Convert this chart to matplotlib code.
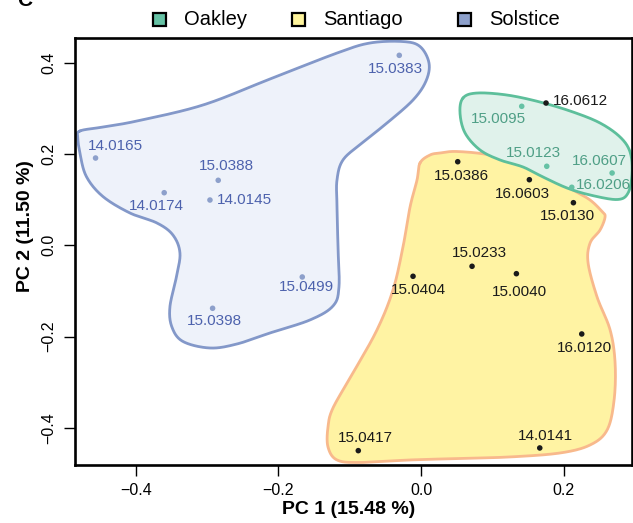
import numpy as np
import matplotlib
matplotlib.use("Agg")
import matplotlib.pyplot as plt
from matplotlib.patches import Rectangle

plt.rcParams["font.family"] = ["Liberation Sans", "DejaVu Sans"]

# ---- data -------------------------------------------------------------
groups = ["Oakley", "Santiago", "Solstice"]

solstice_ids = ["15.0383", "14.0165", "15.0388", "14.0174", "14.0145", "15.0499", "15.0398"]
solstice_pc1 = [-0.0305, -0.4566, -0.2845, -0.3603, -0.2961, -0.1666, -0.2924]
solstice_pc2 = [0.4162, 0.1912, 0.1424, 0.1152, 0.0992, -0.0694, -0.1380]

oakley_ids = ["15.0095", "15.0123", "16.0607", "16.0206"]
oakley_pc1 = [0.1413, 0.1764, 0.2681, 0.2115]
oakley_pc2 = [0.3045, 0.1731, 0.1584, 0.1271]

santiago_ids = ["16.0612", "15.0386", "16.0603", "15.0130", "15.0233", "15.0040",
                "15.0404", "16.0120", "15.0417", "14.0141"]
santiago_pc1 = [0.1754, 0.0515, 0.1520, 0.2138, 0.0716, 0.1338, -0.0112, 0.2255, -0.0880, 0.1666]
santiago_pc2 = [0.3117, 0.1831, 0.1437, 0.0933, -0.0460, -0.0622, -0.0679, -0.1943, -0.4499, -0.4440]

# group outlines (PC1, PC2)
solstice_hull_x = [-0.4786, -0.4463, -0.3986, -0.3060, -0.2119, -0.1179, -0.0716, -0.0253,
                   -0.0014, 0.0112, 0.0070, -0.0112, -0.0477, -0.0828, -0.1095, -0.1179,
                   -0.1179, -0.1165, -0.1151, -0.1235, -0.1558, -0.2119, -0.2582, -0.2961,
                   -0.3340, -0.3495, -0.3523, -0.3432, -0.3382, -0.3481, -0.3705, -0.4084,
                   -0.4463, -0.4695, -0.4786, -0.4814]
solstice_hull_y = [0.2504, 0.2591, 0.2723, 0.3073, 0.3643, 0.4212, 0.4432, 0.4464,
                   0.4355, 0.3993, 0.3599, 0.3183, 0.2679, 0.2241, 0.1869, 0.1430,
                   0.0883, -0.0037, -0.0913, -0.1330, -0.1636, -0.1921, -0.2162, -0.2250,
                   -0.2107, -0.1790, -0.1352, -0.0694, -0.0169, 0.0226, 0.0489, 0.0708,
                   0.1069, 0.1507, 0.2022, 0.2350]

oakley_hull_x = [0.0589, 0.0786, 0.1207, 0.1670, 0.2133, 0.2512, 0.2793, 0.2933, 0.2961,
                 0.2905, 0.2751, 0.2372, 0.2049, 0.1712, 0.1432, 0.1109, 0.0828, 0.0618, 0.0547]
oakley_hull_y = [0.3227, 0.3336, 0.3292, 0.3139, 0.2920, 0.2679, 0.2372, 0.2044, 0.1584,
                 0.1146, 0.1003, 0.1102, 0.1255, 0.1496, 0.1715, 0.1869, 0.2088, 0.2460, 0.2898]

santiago_hull_x = [-0.0014, 0.0126, 0.0267, 0.0505, 0.0968, 0.1432, 0.1811, 0.2133, 0.2372,
                   0.2540, 0.2582, 0.2512, 0.2372, 0.2344, 0.2470, 0.2653, 0.2723, 0.2709,
                   0.2611, 0.2372, 0.1951, 0.1249, 0.0547, -0.0154, -0.0856, -0.1179,
                   -0.1305, -0.1305, -0.1235, -0.0954, -0.0618, -0.0393, -0.0253, -0.0154,
                   -0.0056]
santiago_hull_y = [0.1803, 0.1978, 0.2022, 0.2055, 0.1978, 0.1759, 0.1496, 0.1211, 0.0992,
                   0.0740, 0.0620, 0.0335, 0.0050, -0.0388, -0.1133, -0.1855, -0.2578, -0.3389,
                   -0.4046, -0.4375, -0.4550, -0.4637, -0.4670, -0.4703, -0.4758, -0.4703,
                   -0.4418, -0.3980, -0.3564, -0.2797, -0.1855, -0.0979, -0.0037, 0.0839,
                   0.1430]

x_ticks = [-0.4, -0.2, 0.0, 0.2]
x_tick_labels = ["\u22120.4", "\u22120.2", "0.0", "0.2"]
y_ticks = [-0.4, -0.2, 0.0, 0.2, 0.4]
y_tick_labels = ["\u22120.4", "\u22120.2", "0.0", "0.2", "0.4"]

# ---- label placement (pixel offsets, alignment) -----------------------
solstice_lab = [(-4, -14, "center"), (20, 12, "center"), (8, 14, "center"), (-8, -13, "center"),
                (7, 0, "left"), (4, -10, "center"), (2, -13, "center")]
oakley_lab = [(-23, -13, "center"), (-13, 13, "center"), (-13, 12, "center"), (4, 2, "left")]
santiago_lab = [(7, 2, "left"), (4, -14, "center"), (-7, -14, "center"), (-6, -13, "center"),
                (7, 13, "center"), (3, -18, "center"), (5, -14, "center"), (3, -14, "center"),
                (7, 13, "center"), (6, 12, "center")]

styles = {
    "Oakley": dict(fill="#e0f2eb", edge="#5dbf9b", point="#66c2a5", text="#4f9f86", legend="#66c2a5"),
    "Santiago": dict(fill="#fff3a3", edge="#f8b98c", point="#1a1a1a", text="#1a1a1a", legend="#fff59d"),
    "Solstice": dict(fill="#eef2fa", edge="#8398c9", point="#8da0cb", text="#4d62ad", legend="#8da0cb"),
}


def smooth_closed(xs, ys, n=24):
    """Closed Catmull-Rom spline through the outline vertices."""
    P = np.column_stack([xs, ys])
    m = len(P)
    t = np.linspace(0, 1, n, endpoint=False)[:, None]
    segs = []
    for i in range(m):
        p0, p1, p2, p3 = P[i - 1], P[i], P[(i + 1) % m], P[(i + 2) % m]
        segs.append(0.5 * (2 * p1 + (-p0 + p2) * t
                           + (2 * p0 - 5 * p1 + 4 * p2 - p3) * t ** 2
                           + (-p0 + 3 * p1 - 3 * p2 + p3) * t ** 3))
    pts = np.vstack(segs)
    pts = np.vstack([pts, pts[:1]])
    return pts[:, 0], pts[:, 1]


W, H = 633, 523
fig = plt.figure(figsize=(W / 100, H / 100), dpi=100)
ax = fig.add_axes([74.6 / W, (H - 465.3) / H, (632 - 74.6) / W, (465.3 - 38.3) / H])
ax.set_xlim(-0.486, 0.296)
ax.set_ylim(-0.482, 0.4535)

# hulls
for name, hx, hy, z in [("Solstice", solstice_hull_x, solstice_hull_y, 1),
                        ("Santiago", santiago_hull_x, santiago_hull_y, 2),
                        ("Oakley", oakley_hull_x, oakley_hull_y, 3)]:
    sx, sy = smooth_closed(hx, hy)
    st = styles[name]
    ax.fill(sx, sy, color=st["fill"], lw=0, zorder=z)
    ax.plot(sx, sy, color=st["edge"], lw=2.0, zorder=z + 0.1, solid_capstyle="round")

# points and labels
for name, ids, px, py, labs in [("Solstice", solstice_ids, solstice_pc1, solstice_pc2, solstice_lab),
                                ("Oakley", oakley_ids, oakley_pc1, oakley_pc2, oakley_lab),
                                ("Santiago", santiago_ids, santiago_pc1, santiago_pc2, santiago_lab)]:
    st = styles[name]
    ax.scatter(px, py, s=16, color=st["point"], edgecolors="none", zorder=5)
    for lab, x, y, (dx, dy, ha) in zip(ids, px, py, labs):
        ax.annotate(lab, (x, y), xytext=(dx, dy), textcoords="offset pixels",
                    ha=ha, va="center", fontsize=11, color=st["text"], zorder=6)

# axes styling
for sp in ax.spines.values():
    sp.set_linewidth(1.9)
    sp.set_color("black")
    sp.set_zorder(10)
ax.set_xticks(x_ticks)
ax.set_xticklabels(x_tick_labels)
ax.set_yticks(y_ticks)
ax.set_yticklabels(y_tick_labels, rotation=90, va="center")
ax.tick_params(axis="both", direction="out", length=8, width=1.0, labelsize=11.5, pad=5)

fig.text(348.5 / W, 1 - 510 / H, "PC 1 (15.48 %)", ha="center", va="center",
         fontsize=14, fontweight="bold")
fig.text(26 / W, 1 - 226 / H, "PC 2 (11.50 %)", ha="center", va="center",
         fontsize=14, fontweight="bold", rotation=90)

# panel letter
fig.text(17 / W, 1 - 6 / H, "C", ha="left", va="baseline", fontsize=15, fontweight="bold")

# legend
legend_x = [152.7, 291.7, 457.7]
for name, lx in zip(groups, legend_x):
    fig.add_artist(Rectangle((lx / W, 1 - 26 / H), 13.5 / W, 13.5 / H, transform=fig.transFigure,
                             facecolor=styles[name]["legend"], edgecolor="black", lw=1.6))
    fig.text((lx + 31) / W, 1 - 19.5 / H, name, ha="left", va="center", fontsize=14.5)

fig.savefig("out.png", dpi=100)
